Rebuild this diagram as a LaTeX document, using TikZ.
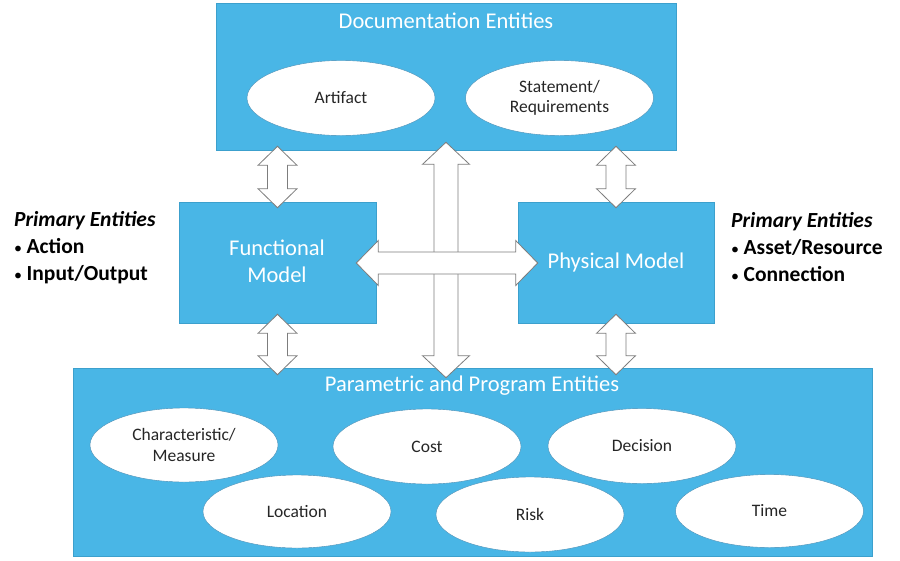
\documentclass[tikz,border=0pt]{standalone}
\usepackage{fontspec}
\setmainfont{Carlito}
\usetikzlibrary{calc,shapes.geometric}
\definecolor{boxblue}{RGB}{73,182,230}
\definecolor{boxedge}{RGB}{60,160,205}
\definecolor{arredge}{RGB}{125,125,125}
\definecolor{elledge}{RGB}{70,140,180}
\newcommand{\sbul}{{\normalfont\fontsize{16}{16}\selectfont\textbullet}\hspace{4.5pt}}
\tikzset{
  bluebox/.style={draw=boxedge, line width=0.6pt, fill=boxblue, rectangle, inner sep=0pt},
  boxtext/.style={text=white, font=\fontsize{22.5}{27}\selectfont, align=center, inner sep=0pt},
  ent/.style={ellipse, draw=elledge, line width=0.4pt, fill=white, minimum width=188pt, minimum height=75pt, inner sep=0pt, align=center, font=\fontsize{17.5}{20.5}\selectfont, text=black!85},
  sidetext/.style={align=left, anchor=west, inner sep=0pt, font=\fontsize{21.5}{27}\selectfont\bfseries, text=black},
  blockarr/.style={draw=arredge, fill=white, line width=0.8pt, line join=miter}
}
% vertical double block arrow: top tip, bottom tip, shaft half, head half, head length
\newcommand{\vdarr}[5]{%
  \draw[blockarr] let \p1=#1, \p2=#2 in
   (\x1,\y1) -- (\x1+#4pt,\y1-#5pt) -- (\x1+#3pt,\y1-#5pt) -- (\x1+#3pt,\y2+#5pt)
   -- (\x1+#4pt,\y2+#5pt) -- (\x1,\y2) -- (\x1-#4pt,\y2+#5pt) -- (\x1-#3pt,\y2+#5pt)
   -- (\x1-#3pt,\y1-#5pt) -- (\x1-#4pt,\y1-#5pt) -- cycle;}
% horizontal double block arrow: left tip, right tip, shaft half, head half, head length
\newcommand{\hdarr}[5]{%
  \draw[blockarr] let \p1=#1, \p2=#2 in
   (\x1,\y1) -- (\x1+#5pt,\y1+#4pt) -- (\x1+#5pt,\y1+#3pt) -- (\x2-#5pt,\y1+#3pt)
   -- (\x2-#5pt,\y1+#4pt) -- (\x2,\y1) -- (\x2-#5pt,\y1-#4pt) -- (\x2-#5pt,\y1-#3pt)
   -- (\x1+#5pt,\y1-#3pt) -- (\x1+#5pt,\y1-#4pt) -- cycle;}
\begin{document}
\begin{tikzpicture}[x=1pt,y=-1pt]
\useasboundingbox[fill=white] (0,0) rectangle (900,560);

% boxes
\node[bluebox, minimum width=460pt, minimum height=147pt] (doc) at (446,76.5) {};
\node[boxtext] (doctitle) at (446,21) {Documentation Entities};
\node[bluebox, minimum width=197pt, minimum height=121pt] (func) at (277.5,262.5) {};
\node[boxtext] (functext) at (277,261) {Functional\\Model};
\node[bluebox, minimum width=196pt, minimum height=121pt] (phys) at (616,262.5) {};
\node[boxtext] (phystext) at (616,262) {Physical Model};
\node[bluebox, minimum width=799pt, minimum height=188pt] (param) at (472.5,462) {};
\node[boxtext] (paramtitle) at (472,386) {Parametric and Program Entities};

% documentation ellipses
\node[ent] (artifact) at (341,98) {Artifact};
\node[ent] (statement) at (559.5,98) {Statement/\\Requirements};

% parametric ellipses
\node[ent, minimum height=74pt] (charac) at (184,445) {Characteristic/\\Measure};
\node[ent] (cost) at (427,446.5) {Cost};
\node[ent] (decision) at (642,446) {Decision};
\node[ent, minimum height=73pt] (location) at (297,511.5) {Location};
\node[ent] (risk) at (530,514.5) {Risk};
\node[ent, minimum height=73pt] (time) at (769.5,511) {Time};

% side texts
\node[sidetext] (lefttext) at (14,247.5) {\itshape Primary Entities\\\sbul Action\\\sbul Input/Output};
\node[sidetext] (righttext) at (731,247.5) {\itshape Primary Entities\\\sbul Asset/Resource\\\sbul Connection};

% double block arrows between doc and models
\vdarr{($(doc.south -| func.north)+(0,-4)$)}{($(func.north)+(0,6)$)}{10}{19.5}{19}
\vdarr{($(doc.south -| phys.north)+(0,-4)$)}{($(phys.north)+(0,6)$)}{10}{19.5}{19}
% between models and param
\vdarr{($(func.south)+(0,-9)$)}{($(param.north -| func.south)+(0,7)$)}{10}{19.5}{19}
\vdarr{($(phys.south)+(0,-9)$)}{($(param.north -| phys.south)+(0,7)$)}{10}{19.5}{19}

% big cross: vertical first, then horizontal on top
\coordinate (crosstop) at ($(doc.south)+(0,-8)$);
\vdarr{(crosstop)}{($(param.north -| crosstop)+(0,10)$)}{12}{23.5}{22}
\hdarr{($(func.east)+(-20,0.5)$)}{($(phys.west)+(20,0.5)$)}{11}{22.5}{22}
\end{tikzpicture}
\end{document}
